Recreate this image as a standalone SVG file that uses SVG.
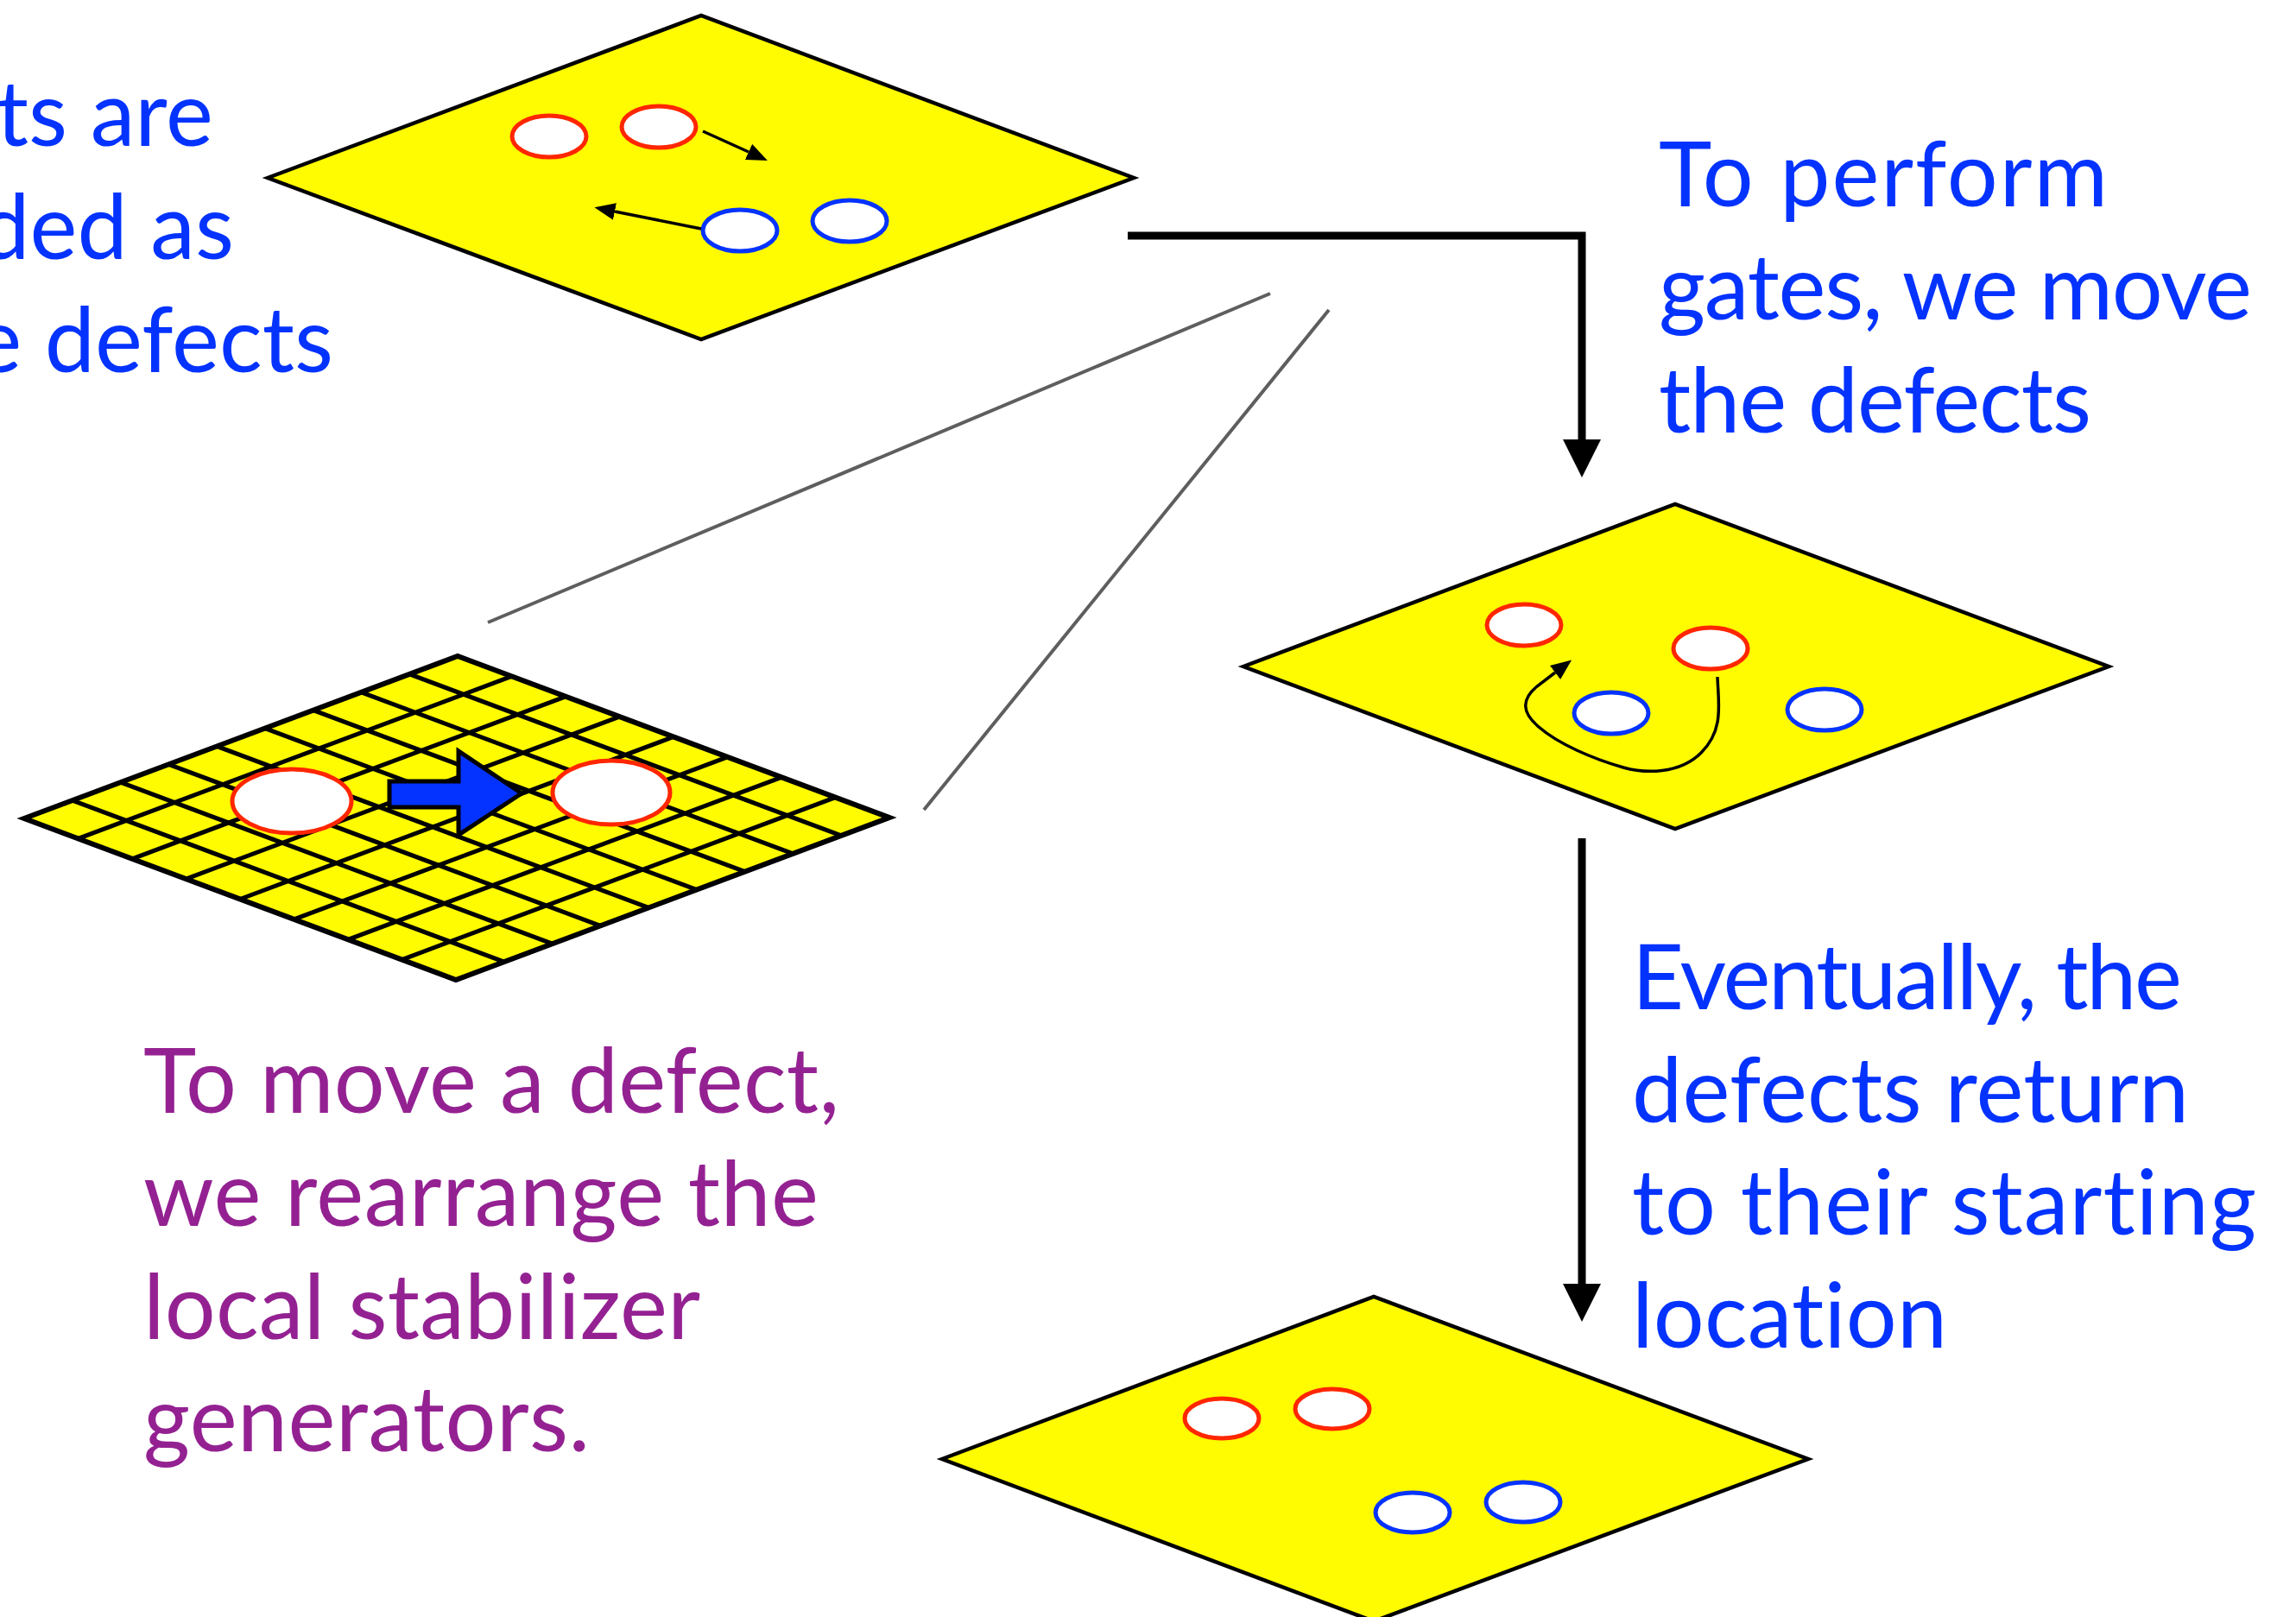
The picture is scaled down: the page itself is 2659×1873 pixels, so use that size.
<svg xmlns="http://www.w3.org/2000/svg" width="2659" height="1873" viewBox="0 0 2659 1873">
<defs>
<style>
.plane{fill:#FFFB00;stroke:#000;stroke-width:4.5;stroke-linejoin:miter}
.grid{fill:none;stroke:#000;stroke-width:5}
.red{fill:#fff;stroke:#FF2600;stroke-width:5}
.blue{fill:#fff;stroke:#0433FF;stroke-width:5}
.conn{fill:none;stroke:#000;stroke-width:9}
.thin{fill:none;stroke:#000;stroke-width:3.5}
.gray{fill:none;stroke:#5E5E5E;stroke-width:4}
.t{font-family:Lato,"Open Sans","Liberation Sans",sans-serif;font-size:104px;font-variant-ligatures:none;font-feature-settings:"liga" 0}
.tb{fill:#0433FF}
.tp{fill:#942192}
</style>
<marker id="big" markerUnits="userSpaceOnUse" markerWidth="44" markerHeight="44" viewBox="0 0 44 44" refX="0" refY="22" orient="auto">
<path d="M0,0 L44,22 L0,44 z" fill="#000"/>
</marker>
<marker id="small" markerUnits="userSpaceOnUse" markerWidth="24" markerHeight="20" viewBox="0 0 24 20" refX="0" refY="10" orient="auto">
<path d="M0,0 L24,10 L0,20 z" fill="#000"/>
</marker>
</defs>
<rect x="0" y="0" width="2659" height="1873" fill="#fff"/>

<g id="text-encoded" class="t tb" text-anchor="end">
<text x="247" y="169">ts are</text>
<text x="271" y="300">ded as</text>
<text x="386" y="431">e defects</text>
</g>

<g id="connectors">
<path class="conn" d="M1306,273 H1832 V509" marker-end="url(#big)"/>
<path class="conn" d="M1832,971 V1487" marker-end="url(#big)"/>
<line class="gray" x1="565" y1="721" x2="1471" y2="340"/>
<line class="gray" x1="1070" y1="938" x2="1539" y2="359"/>
</g>

<g id="top-plane">
<polygon class="plane" points="310,206 812,18 1313,206 812,393"/>
<ellipse class="red" cx="636" cy="158" rx="43" ry="24"/>
<ellipse class="red" cx="763" cy="147" rx="43" ry="24"/>
<ellipse class="blue" cx="857" cy="267" rx="43" ry="24"/>
<ellipse class="blue" cx="984" cy="256" rx="43" ry="24"/>
<line class="thin" x1="814" y1="152" x2="867" y2="176" marker-end="url(#small)"/>
<line class="thin" x1="812" y1="265" x2="712" y2="245" marker-end="url(#small)"/>
</g>

<g id="zoom-plane">
<polygon class="plane" points="28,948 530,760 1030,947 528,1135"/>
<path class="grid" d="M83.8,927.1 L583.8,1114.1 M139.6,906.2 L639.6,1093.2 M195.3,885.3 L695.3,1072.3 M251.1,864.4 L751.1,1051.4 M306.9,843.6 L806.9,1030.6 M362.7,822.7 L862.7,1009.7 M418.4,801.8 L918.4,988.8 M474.2,780.9 L974.2,967.9 M90.5,971.4 L592.5,783.4 M153,994.8 L655,806.8 M215.5,1018.1 L717.5,830.1 M278,1041.5 L780,853.5 M340.5,1064.9 L842.5,876.9 M403,1088.3 L905,900.3 M465.5,1111.6 L967.5,923.6"/>
<polygon fill="none" stroke="#000" stroke-width="6" points="28,948 530,760 1030,947 528,1135"/>
<ellipse class="red" cx="338" cy="928" rx="69" ry="37" stroke-width="6"/>
<ellipse class="red" cx="708" cy="918" rx="68" ry="37" stroke-width="6"/>
<polygon fill="#0433FF" stroke="#000" stroke-width="5" points="451,905 531,905 531,870 604,919 531,967 531,935 451,935"/>
</g>

<g id="mid-plane">
<polygon class="plane" points="1440,772 1940,584 2442,772 1940,960"/>
<ellipse class="red" cx="1765" cy="724" rx="43" ry="24"/>
<ellipse class="red" cx="1981" cy="751" rx="43" ry="24"/>
<ellipse class="blue" cx="1866" cy="826" rx="43" ry="24"/>
<ellipse class="blue" cx="2113" cy="822" rx="43" ry="24"/>
<path class="thin" stroke-width="4.5" d="M1989,784 C1990,815 1997,845 1970,872 C1945,897 1905,896 1880,889 C1845,879 1805,862 1782,842 C1762,825 1762,810 1780,795 L1801,779" marker-end="url(#small)"/>
</g>

<g id="bottom-plane">
<polygon class="plane" points="1091,1690 1591,1502 2094,1690 1591,1878"/>
<ellipse class="red" cx="1415" cy="1643" rx="43" ry="23"/>
<ellipse class="red" cx="1543" cy="1632" rx="43" ry="23"/>
<ellipse class="blue" cx="1636" cy="1752" rx="43" ry="23"/>
<ellipse class="blue" cx="1764" cy="1740" rx="43" ry="23"/>
</g>

<g id="text-gates" class="t tb">
<text x="1921" y="239" textLength="520">To perform</text>
<text x="1921" y="370" textLength="687">gates, we move</text>
<text x="1921" y="501" textLength="501">the defects</text>
</g>

<g id="text-return" class="t tb">
<text x="1890" y="1169" textLength="637">Eventually, the</text>
<text x="1890" y="1300" textLength="645">defects return</text>
<text x="1890" y="1430" textLength="723">to their starting</text>
<text x="1890" y="1561" textLength="365">location</text>
</g>

<g id="text-move" class="t tp">
<text x="166" y="1289" textLength="806">To move a defect,</text>
<text x="166" y="1420" textLength="782">we rearrange the</text>
<text x="166" y="1551" textLength="645">local stabilizer</text>
<text x="166" y="1681" textLength="517">generators.</text>
</g>
</svg>
